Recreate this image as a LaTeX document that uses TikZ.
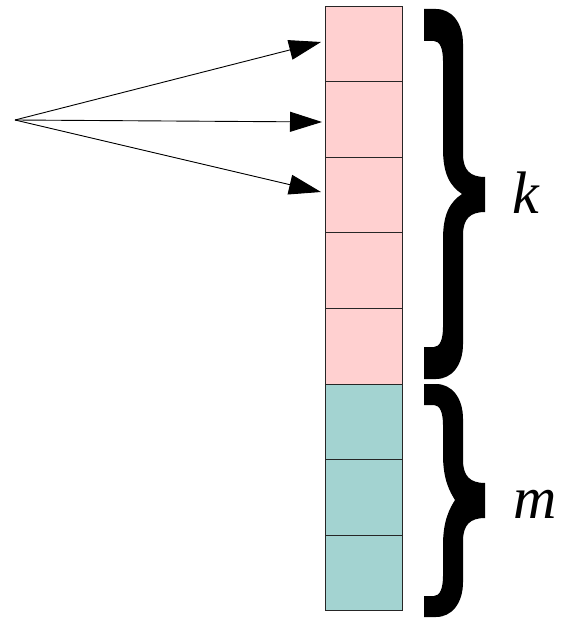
\documentclass[tikz,border=0pt]{standalone}
\usepackage{fontspec}
\setmainfont{Liberation Serif}
\usetikzlibrary{arrows.meta}
\definecolor{pinkc}{RGB}{255,208,208}
\definecolor{tealc}{RGB}{163,211,209}
\newcommand{\bigbrace}[5]{% top, bottom, mid, hook, notch
  \fill[black] (424,#1) -- (436,#1) .. controls (452,#1) and (463,#1+14) .. (463,#1+35)
    -- (463,#3-40) .. controls (463,#3-24) and (470,#3-17) .. (485,#3-17)
    -- (485,#3+18) .. controls (470,#3+18) and (463,#3+25) .. (463,#3+41)
    -- (463,#2-35) .. controls (463,#2-14) and (452,#2) .. (436,#2) -- (424,#2)
    -- (424,#2-#4) -- (434,#2-#4) .. controls (440,#2-#4) and (443,#2-#4-8) .. (443,#2-#4-20)
    -- (443,#3+45) .. controls (443,#3+20) and (450,#3+8) .. (#5,#3)
    .. controls (450,#3-8) and (443,#3-20) .. (443,#3-45)
    -- (443,#1+#4+20) .. controls (443,#1+#4+8) and (440,#1+#4) .. (434,#1+#4)
    -- (424,#1+#4) -- cycle;}
\begin{document}
\begin{tikzpicture}[x=1pt,y=-1pt,
  cell/.style={draw=black!85, line width=0.9pt, minimum width=77pt, minimum height=75.6pt, inner sep=0pt, outer sep=0pt},
  ptr/.style={line width=0.9pt, -{Triangle[length=32pt,width=20pt]}},
  lbl/.style={font=\fontsize{60}{72}\selectfont\itshape, inner sep=0pt}]
\useasboundingbox (0,0) rectangle (562,620);
\foreach \i in {1,...,5}{
  \node[cell, fill=pinkc] (c\i) at (363.5, 6+75.6*\i-37.8) {};
}
\foreach \i in {6,7,8}{
  \node[cell, fill=tealc] (c\i) at (363.5, 6+75.6*\i-37.8) {};
}
\coordinate (src) at (15,120);
\coordinate (t1) at (321,42);
\coordinate (t2) at (322,122);
\coordinate (t3) at (321,192);
\draw[ptr] (src) -- (t1);
\draw[ptr] (src) -- (t2);
\draw[ptr] (src) -- (t3);
\bigbrace{9}{379}{194}{32}{462}
\bigbrace{384}{617}{500}{21}{455}
\node[lbl, anchor=base] (k) at (526,213) {k};
\node[lbl, anchor=base] (m) at (535,518) {m};
\end{tikzpicture}
\end{document}
